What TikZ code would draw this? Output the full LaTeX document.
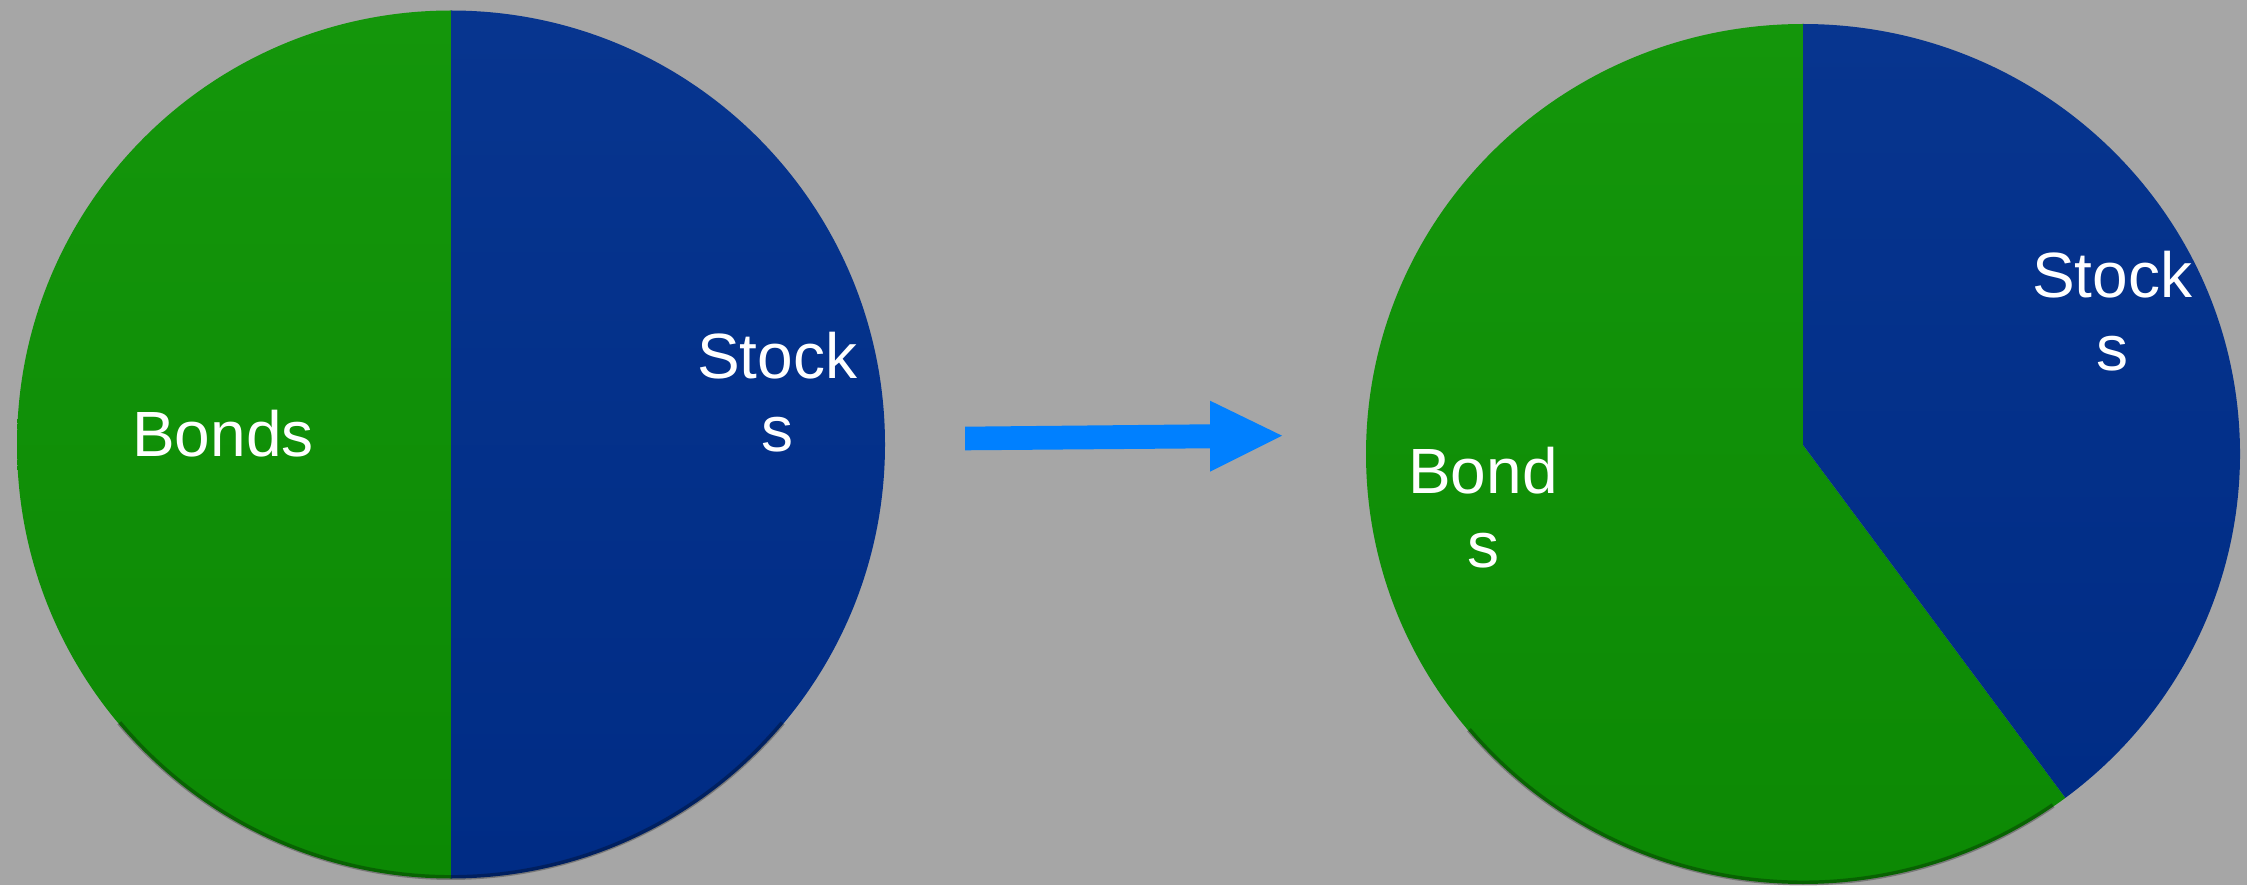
\documentclass[tikz,border=0pt]{standalone}
\usepackage{fontspec}
\setmainfont{Liberation Sans}
\definecolor{bgray}{RGB}{166,166,166}
\definecolor{gtop}{RGB}{20,150,11}
\definecolor{gbot}{RGB}{12,137,4}
\definecolor{btop}{RGB}{7,53,143}
\definecolor{bbot}{RGB}{0,44,133}
\definecolor{arrowblue}{RGB}{0,128,255}
\tikzset{
  greenslice/.style={top color=gtop, bottom color=gbot, draw=none},
  blueslice/.style={top color=btop, bottom color=bbot, draw=none},
  rimshadow/.style={draw=black, draw opacity=0.28, line width=1.4},
  % anchor=base sits on the baseline of the last line of a label
  slicelabel/.style={text=white, align=center, inner sep=0pt, anchor=base,
    font=\fontsize{18.2pt}{21.05pt}\selectfont},
}
\begin{document}
\begin{tikzpicture}[x=0.1mm, y=0.1mm]
  % canvas
  \fill[bgray] (0,0) rectangle (2247,885);
  \useasboundingbox (0,0) rectangle (2247,885);

  % ---- first pie: 50 / 50 ----
  \coordinate (c1) at (451,440.5);
  \path[greenslice] (c1) -- ++(90:434) arc[start angle=90, end angle=270, radius=434] -- cycle;
  \path[blueslice]  (c1) -- ++(90:434) arc[start angle=90, end angle=-90, radius=434] -- cycle;
  \draw[rimshadow] (c1) ++(220:433) arc[start angle=220, end angle=320, radius=433];

  \node[slicelabel] (bonds1)  at (223,428) {Bonds};
  \node[slicelabel] (stocks1) at (777,433) {Stock\\s};

  % ---- second pie: 60 / 40 ----
  \coordinate (c2) at (1803,431);
  \coordinate (apex2) at (1803,440);
  \path[greenslice] (apex2) -- (1803,861)
     arc[start angle=90, end angle=306.9, x radius=437, y radius=430] -- cycle;
  \path[blueslice] (apex2) -- (1803,861)
     arc[start angle=90, end angle=-53.1, x radius=437, y radius=430] -- cycle;
  \draw[rimshadow] (c2) ++(220:436 and 429) arc[start angle=220, end angle=305, x radius=436, y radius=429];

  \node[slicelabel] (bonds2)  at (1483,318) {Bond\\s};
  \node[slicelabel] (stocks2) at (2112,514) {Stock\\s};

  % ---- arrow between the pies ----
  \fill[arrowblue] (965,458.3) -- (1210,460.7) -- (1210,484.3) -- (1282,449.3)
     -- (1210,413.3) -- (1210,436.7) -- (965,434.7) -- cycle;
\end{tikzpicture}
\end{document}
